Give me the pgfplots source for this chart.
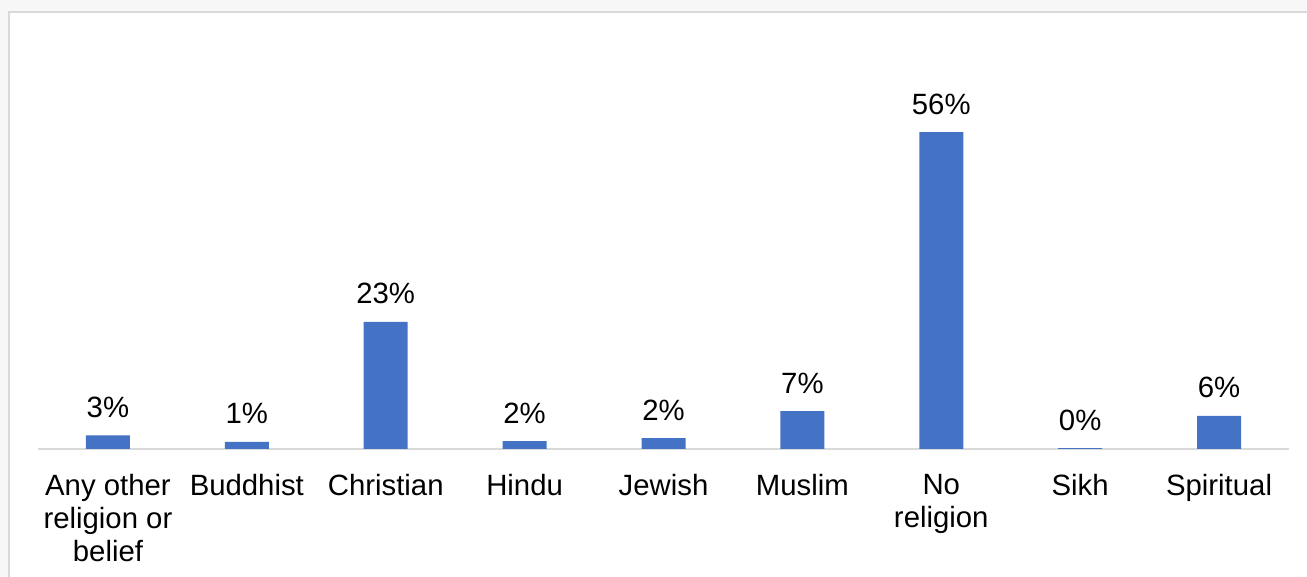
\documentclass[border=0pt]{standalone}
\usepackage{fontspec}
\setmainfont{Liberation Sans}
\usepackage{pgfplots}
\pgfplotsset{compat=1.18}
\definecolor{barblue}{HTML}{4472C4}
\definecolor{linegray}{HTML}{D9D9D9}
\definecolor{bggray}{HTML}{F7F7F7}
\begin{document}
\begin{tikzpicture}
\useasboundingbox (-28.875pt,-96pt) rectangle (951.375pt,336.75pt);
\clip (-28.875pt,-96pt) rectangle (951.375pt,336.75pt);
\fill[bggray] (-28.875pt,-96pt) rectangle (951.375pt,336.75pt);
\filldraw[fill=white, draw=linegray, line width=1.5pt] (-21.75pt,327.375pt) rectangle (970pt,-120pt);
\begin{axis}[
  at={(0pt,0pt)}, anchor=south west,
  width=937.5pt, height=314.25pt, scale only axis,
  xmin=-0.5, xmax=8.5, ymin=0, ymax=74,
  ybar, bar width=33pt,
  axis x line*=bottom,
  hide y axis,
  x axis line style={-, draw=linegray, line width=1.2pt},
  xtick={0,...,8},
  major tick length=0pt,
  xticklabels={{Any other\\religion or\\belief},Buddhist,Christian,Hindu,Jewish,Muslim,{No\\religion},Sikh,Spiritual},
  xticklabel style={font=\fontsize{22}{24.75}\selectfont, align=center, anchor=north, inner sep=0pt, yshift=-18.75pt},
  ytick=\empty,
  clip=false,
]
\addplot[fill=barblue, draw=none, point meta=explicit symbolic,
  nodes near coords,
  nodes near coords style={font=\fontsize{22}{24.75}\selectfont, anchor=base, inner sep=0pt, yshift=13.5pt, text=black}]
coordinates {
(0,2.4) [3\%]
(1,1.24) [1\%]
(2,22.43) [23\%]
(3,1.41) [2\%]
(4,1.94) [2\%]
(5,6.71) [7\%]
(6,55.98) [56\%]
(7,0.15) [0\%]
(8,5.83) [6\%]
};
\end{axis}
\end{tikzpicture}
\end{document}
